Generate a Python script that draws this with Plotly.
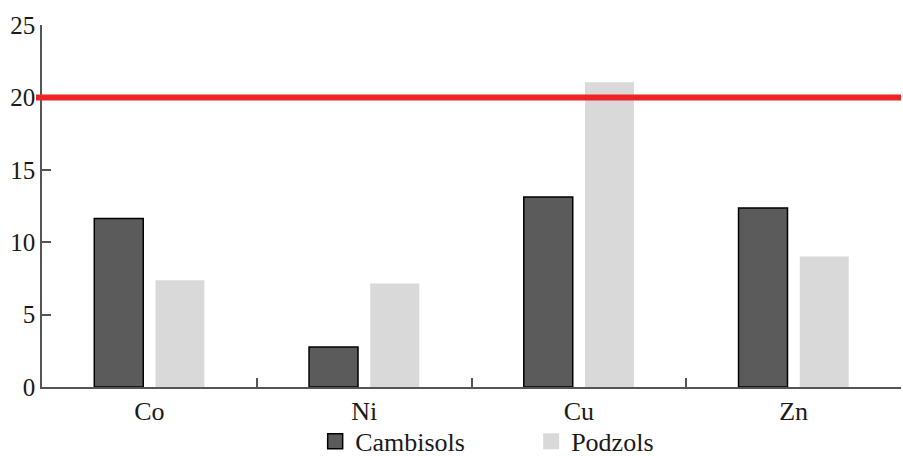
import plotly.graph_objects as go

categories = ["Co", "Ni", "Cu", "Zn"]
cambisols = [11.64, 2.76, 13.13, 12.37]
podzols = [7.37, 7.15, 21.04, 9.01]
threshold = 20
y_ticks = [0, 5, 10, 15, 20, 25]

font_family = "Liberation Serif"
camb_color = "#5b5b5b"
podz_color = "#d9d9d9"

fig = go.Figure()
fig.add_trace(go.Bar(
    x=categories, y=cambisols, name="Cambisols", showlegend=False,
    marker=dict(color=camb_color, line=dict(color="#000000", width=1.5)),
))
fig.add_trace(go.Bar(
    x=categories, y=podzols, name="Podzols", showlegend=False,
    marker=dict(color=podz_color, line=dict(color=podz_color, width=0)),
))
# legend entries
fig.add_trace(go.Scatter(
    x=[None], y=[None], mode="markers", name="Cambisols",
    marker=dict(symbol="square", size=15, color=camb_color,
                line=dict(color="#000000", width=1.5)),
))
fig.add_trace(go.Scatter(
    x=[None], y=[None], mode="markers", name="Podzols",
    marker=dict(symbol="square", size=16, color=podz_color,
                line=dict(color=podz_color, width=0)),
))

fig.add_shape(
    type="line", xref="paper", yref="y",
    x0=-0.007, x1=1.0, y0=threshold, y1=threshold,
    line=dict(color="#ee2424", width=6), layer="above",
)

fig.update_layout(
    width=903, height=456,
    margin=dict(l=42, r=2, t=25, b=69, autoexpand=False),
    paper_bgcolor="white", plot_bgcolor="white",
    barmode="group", bargap=0.43, bargroupgap=0.2,
    font=dict(family=font_family, size=25, color="#1a1a1a"),
    showlegend=True,
    legend=dict(
        orientation="h", x=0.318, xanchor="left", y=-0.15, yanchor="middle",
        font=dict(family=font_family, size=26, color="#1a1a1a"),
        entrywidth=171, entrywidthmode="pixels",
        bgcolor="rgba(0,0,0,0)", borderwidth=0,
    ),
    xaxis=dict(
        showline=True, linecolor="#555555", linewidth=1.5,
        ticks="inside", tickson="boundaries", ticklen=9, tickcolor="#555555",
        tickwidth=1.5, showgrid=False, automargin=False,
        tickfont=dict(family=font_family, size=26, color="#1a1a1a"),
    ),
    yaxis=dict(
        range=[0, 25], tickvals=y_ticks,
        showline=True, linecolor="#555555", linewidth=1.5,
        ticks="inside", ticklen=9, tickcolor="#555555", tickwidth=1.5,
        showgrid=False, zeroline=False, automargin=False,
        tickfont=dict(family=font_family, size=25, color="#1a1a1a"),
    ),
)

fig.write_html(
    "out.html",
    config={"displayModeBar": False},
    post_script="document.body.style.margin='0';document.body.style.overflow='hidden';",
)
